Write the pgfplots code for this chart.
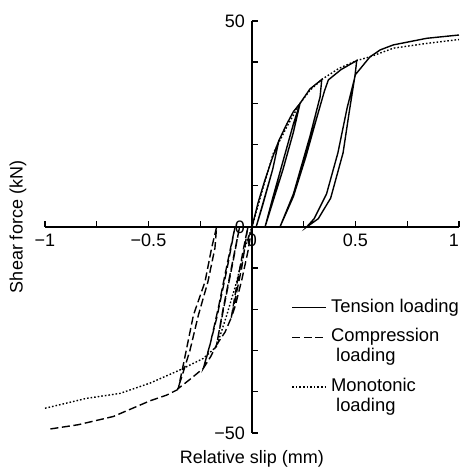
\documentclass[border=0pt]{standalone}
\usepackage{fontspec}
\setmainfont{Liberation Sans}
\usepackage{pgfplots}
\pgfplotsset{compat=1.18}
\pgfplotsset{firstline legend/.style={
  legend image code/.code={\draw[##1] (0cm,4.6pt) -- (0.6cm,4.6pt);}}}

\begin{document}
\begin{tikzpicture}
\begin{axis}[
  scale only axis,
  width=207pt, height=206pt,
  axis lines=middle,
  axis line style={-, line width=0.7pt},
  xmin=-1, xmax=1, ymin=-50, ymax=50,
  xtick={-1,-0.75,-0.5,-0.25,0,0.25,0.5,0.75,1},
  xticklabels={−1,,−0.5,,0,,0.5,,\llap{1}\hspace{1pt}},
  ytick={-50,-40,-30,-20,-10,0,10,20,30,40,50},
  yticklabels={−50,,,,,0,,,,,50},
  hide obscured x ticks=false,
  hide obscured y ticks=false,
  tick align=inside,
  major tick length=3pt,
  tick style={line width=0.7pt, black},
  tick label style={font=\fontsize{9}{11}\selectfont},
  label style={font=\fontsize{9}{11}\selectfont},
  xlabel={Relative slip (mm)},
  ylabel={Shear force (kN)},
  xlabel style={at={(axis description cs:0.5,0)}, anchor=north, yshift=-5pt},
  ylabel style={at={(axis description cs:0,0.5)}, anchor=center, rotate=90, yshift=13.5pt},
  clip=false,
  legend style={at={(axis cs:0.16,-15.5)}, anchor=north west, draw=none, fill=none,
    font=\fontsize{9.2}{10}\selectfont, row sep=2.5pt,
    cells={anchor=west, align=left}},
  legend image post style={line width=0.7pt},
  every axis plot/.append style={line width=0.7pt, black},
]
% tension loading
\addplot[solid] coordinates {
(0,0) (0.03,6) (0.06,11) (0.1,17) (0.13,21) (0.1,14) (0.05,5) (0.02,0)
(0.06,7) (0.1,14) (0.13,21) (0.168,25) (0.2,28) (0.232,30)
(0.2,23) (0.15,14) (0.1,6) (0.063,0) (0.1,7) (0.15,16) (0.2,25) (0.232,30)
(0.28,33.5) (0.337,35.8)
(0.329,31.6) (0.28,22) (0.2,8) (0.135,0)
(0.2,7.4) (0.26,17) (0.31,26) (0.35,33) (0.369,35.7) (0.43,38.2) (0.506,40.4)
(0.498,36.9) (0.47,28) (0.44,18) (0.38,7) (0.32,2) (0.264,0)
(0.3,2) (0.36,8) (0.415,18) (0.46,29) (0.5,37) (0.57,41.3)
(0.62,43) (0.683,44.2) (0.844,45.8) (1.0,46.6)
};
\addlegendentry{Tension loading}
% compression loading
\addplot[dash pattern=on 4pt off 1.8pt, firstline legend] coordinates {
(0,0) (-0.02,-6) (-0.05,-13) (-0.08,-19) (-0.1,-22) (-0.07,-13) (-0.04,-5) (-0.02,0)
(-0.05,-10) (-0.1,-22) (-0.13,-25.5) (-0.171,-28.6)
(-0.13,-18) (-0.09,-8) (-0.06,0) (-0.1,-10) (-0.14,-20) (-0.171,-28.6)
(-0.2,-31.5) (-0.235,-34.3)
(-0.2,-28) (-0.16,-19) (-0.12,-9) (-0.082,0)
(-0.12,-10) (-0.17,-22) (-0.21,-30) (-0.235,-34.3) (-0.3,-37) (-0.356,-39.2)
(-0.33,-33) (-0.283,-21.4) (-0.227,-13.3) (-0.195,-5.1) (-0.171,0)
(-0.179,-5.1) (-0.213,-13.3) (-0.259,-21.4) (-0.3,-30) (-0.34,-36.5) (-0.36,-39.5)
(-0.412,-40.8) (-0.493,-42.2) (-0.67,-46) (-0.84,-48) (-0.984,-49.1)
};
\addlegendentry{Compression\\\ loading}
% monotonic loading
\addplot[dash pattern=on 0.8pt off 1pt, firstline legend] coordinates {
(-1,-44) (-0.8,-41.6) (-0.638,-40.4) (-0.493,-37.9) (-0.348,-34.7) (-0.235,-31.9)
(-0.171,-29) (-0.122,-21.4) (-0.074,-13.3) (-0.034,-5) (0,0)
(0.055,9.8) (0.103,17.9) (0.168,24.3) (0.232,30) (0.28,33.2) (0.337,35.8)
(0.42,38.5) (0.506,40.4) (0.57,41.3) (0.683,43.4) (0.85,44.6) (1.0,45.5)
};
\addlegendentry{Monotonic\\\ loading}
\coordinate (tl) at (axis cs:-1.2174,55.1);
\coordinate (br) at (axis cs:1.0048,-58.5);
\end{axis}
\pgfresetboundingbox
\path (tl) rectangle (br);
\end{tikzpicture}
\end{document}
